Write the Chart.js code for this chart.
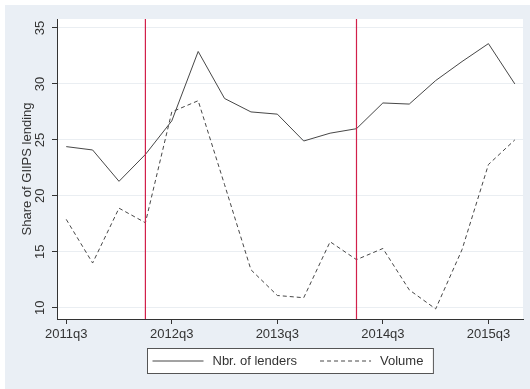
<!DOCTYPE html>
<html>
<head>
<meta charset="utf-8">
<script src="https://cdn.jsdelivr.net/npm/chart.js@4"></script>
<style>
    html, body { margin: 0; padding: 0; background: #ffffff; }
    canvas { display: block; }
</style>
</head>
<body>
<canvas id="lendingChart" width="530" height="389"></canvas>
<script>
// ==============================
// Datos
// ==============================
const quarters = ['2011q3', '2011q4', '2012q1', '2012q2', '2012q3', '2012q4', '2013q1', '2013q2', '2013q3',
    '2013q4', '2014q1', '2014q2', '2014q3', '2014q4', '2015q1', '2015q2', '2015q3', '2015q4'];
const lenders = [24.4, 24.1, 21.3, 23.7, 26.7, 32.9, 28.7, 27.5, 27.3, 24.9, 25.6, 26.0, 28.3, 28.2, 30.3, 32.0, 33.6, 30.0];
const volume = [17.9, 14.0, 18.9, 17.6, 27.5, 28.5, 21.0, 13.4, 11.1, 10.9, 15.9, 14.3, 15.3, 11.6, 9.9, 15.2, 22.8, 25.0];
const xTickQuarters = ['2011q3', '2012q3', '2013q3', '2014q3', '2015q3'];
const yTicks = [10, 15, 20, 25, 30, 35];
const breakQuarters = ['2012q2', '2014q2'];

const FONT = { family: '"Liberation Sans", Arial, sans-serif', size: 13 };
const TEXT_COLOR = '#333333';
const AXIS_COLOR = '#333333';
const LINE_COLOR = '#474747';
const BREAK_COLOR = '#d2204a';

// ==============================
// Plugins: fondo, líneas verticales, leyenda
// ==============================
const backgroundPlugin = {
    id: 'stataBackground',
    beforeDraw(chart) {
        const { ctx, chartArea } = chart;
        ctx.save();
        ctx.fillStyle = '#ffffff';
        ctx.fillRect(0, 0, chart.width, chart.height);
        ctx.fillStyle = '#eaeff5';
        ctx.fillRect(5, 5, chart.width - 5, chart.height - 5);
        ctx.fillStyle = '#ffffff';
        ctx.fillRect(chartArea.left, chartArea.top, chartArea.right - chartArea.left, chartArea.bottom - chartArea.top);
        ctx.restore();
    }
};

const breakLinesPlugin = {
    id: 'breakLines',
    afterDatasetsDraw(chart) {
        const { ctx, chartArea, scales } = chart;
        ctx.save();
        ctx.strokeStyle = BREAK_COLOR;
        ctx.lineWidth = 1.2;
        breakQuarters.forEach(q => {
            const x = scales.x.getPixelForValue(quarters.indexOf(q));
            ctx.beginPath();
            ctx.moveTo(x, chartArea.top);
            ctx.lineTo(x, chartArea.bottom);
            ctx.stroke();
        });
        ctx.restore();
    }
};

const boxedLegendPlugin = {
    id: 'boxedLegend',
    afterDraw(chart) {
        const { ctx, chartArea } = chart;
        const sampleLen = 51, gap = 9, itemGap = 23, padL = 5, padR = 10, boxH = 25;
        ctx.save();
        ctx.font = FONT.size + 'px ' + FONT.family;
        const items = chart.data.datasets.map(ds => ({ ds, w: ctx.measureText(ds.label).width }));
        let total = padL + padR;
        items.forEach((it, i) => { total += sampleLen + gap + it.w + (i > 0 ? itemGap : 0); });

        const left = Math.round((chartArea.left + chartArea.right) / 2 - total / 2) + 0.5;
        const top = chartArea.bottom + 29.5;
        const midY = top + boxH / 2;

        ctx.fillStyle = '#ffffff';
        ctx.fillRect(left, top, total, boxH);
        ctx.strokeStyle = '#555555';
        ctx.lineWidth = 1;
        ctx.strokeRect(left, top, total, boxH);

        let x = left + padL;
        items.forEach((it, i) => {
            if (i > 0) x += itemGap;
            ctx.beginPath();
            ctx.strokeStyle = it.ds.borderColor;
            ctx.lineWidth = it.ds.borderWidth;
            ctx.setLineDash(it.ds.borderDash || []);
            ctx.moveTo(x, midY);
            ctx.lineTo(x + sampleLen, midY);
            ctx.stroke();
            ctx.setLineDash([]);
            x += sampleLen + gap;
            ctx.fillStyle = TEXT_COLOR;
            ctx.textBaseline = 'middle';
            ctx.textAlign = 'left';
            ctx.fillText(it.ds.label, x, midY);
            x += it.w;
        });
        ctx.restore();
    }
};

// ==============================
// Gráfico
// ==============================
class LendingChart {
    constructor(canvas) {
        this.chart = new Chart(canvas, {
            type: 'line',
            data: {
                datasets: [{
                    label: 'Nbr. of lenders',
                    data: lenders.map((v, i) => ({ x: i, y: v })),
                    borderColor: LINE_COLOR,
                    borderWidth: 1,
                    pointRadius: 0,
                    tension: 0
                }, {
                    label: 'Volume',
                    data: volume.map((v, i) => ({ x: i, y: v })),
                    borderColor: LINE_COLOR,
                    borderWidth: 1,
                    borderDash: [4, 3],
                    pointRadius: 0,
                    tension: 0
                }]
            },
            options: {
                responsive: false,
                animation: false,
                layout: { padding: { left: 5, top: 19, right: 7, bottom: 40 } },
                plugins: { legend: { display: false }, tooltip: { enabled: false } },
                scales: {
                    x: {
                        type: 'linear',
                        min: -0.35,
                        max: quarters.length - 1 + 0.31,
                        afterBuildTicks: s => { s.ticks = xTickQuarters.map(q => ({ value: quarters.indexOf(q) })); },
                        afterFit: s => { s.height = 30; },
                        ticks: {
                            callback: v => quarters[v],
                            font: FONT, color: TEXT_COLOR, padding: 3,
                            maxRotation: 0, autoSkip: false
                        },
                        grid: { drawOnChartArea: false, tickLength: 5, tickColor: AXIS_COLOR },
                        border: { color: AXIS_COLOR, width: 1 }
                    },
                    y: {
                        min: 9,
                        max: 35.8,
                        afterBuildTicks: s => { s.ticks = yTicks.map(v => ({ value: v })); },
                        afterFit: s => { s.width = 52; },
                        ticks: {
                            font: FONT, color: TEXT_COLOR, padding: 4,
                            minRotation: 90, maxRotation: 90, crossAlign: 'center'
                        },
                        grid: { color: '#eaeef2', tickLength: 5, tickColor: AXIS_COLOR },
                        border: { color: AXIS_COLOR, width: 1 },
                        title: {
                            display: true,
                            text: 'Share of GIIPS lending',
                            font: FONT, color: TEXT_COLOR,
                            padding: { top: 15, bottom: 0 }
                        }
                    }
                }
            },
            plugins: [backgroundPlugin, breakLinesPlugin, boxedLegendPlugin]
        });
    }
}

document.addEventListener('DOMContentLoaded', () => {
    window.lendingChart = new LendingChart(document.getElementById('lendingChart'));
});
</script>
</body>
</html>
